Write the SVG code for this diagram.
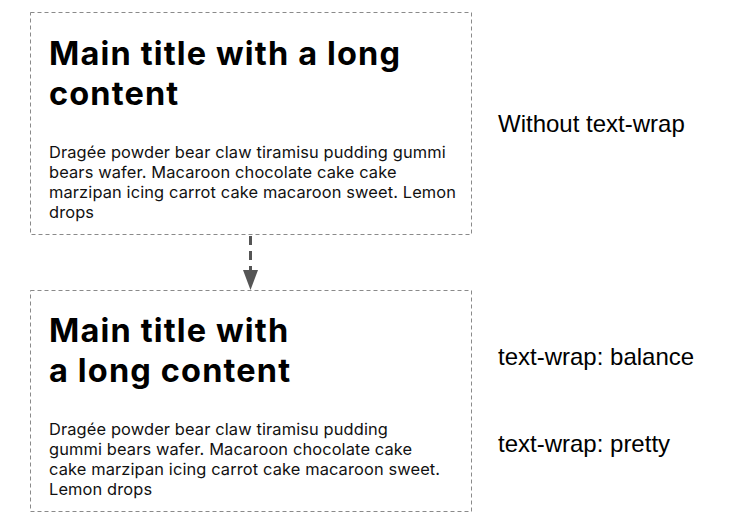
<svg xmlns="http://www.w3.org/2000/svg" width="750" height="525" viewBox="0 0 750 525">
<style>
.box{fill:#fff;stroke:#8a8a8a;stroke-width:1;stroke-dasharray:4 3}
.title{font-family:Inter,Lato,sans-serif;font-weight:700;font-size:32.5px;letter-spacing:1.15px;fill:#000}
.body{font-family:Inter,Lato,sans-serif;font-size:16.4px;letter-spacing:0.13px;fill:#111}
.label{font-family:"Liberation Sans",Arial,sans-serif;font-size:24px;fill:#000}
.conn{stroke:#555;stroke-width:3;stroke-dasharray:9 6;fill:none}
</style>
<rect width="750" height="525" fill="#fff"/>
<g id="node1">
<rect class="box" x="30.5" y="12.5" width="441" height="222"/>
<text class="title" x="49" y="65">Main title with a long</text>
<text class="title" x="49" y="105">content</text>
<text class="body" x="49" y="158">Dragée powder bear claw tiramisu pudding gummi</text>
<text class="body" x="49" y="178">bears wafer. Macaroon chocolate cake cake</text>
<text class="body" x="49" y="198">marzipan icing carrot cake macaroon sweet. Lemon</text>
<text class="body" x="49" y="218">drops</text>
</g>
<g id="node2">
<rect class="box" x="30.5" y="290.5" width="441" height="221"/>
<text class="title" x="49" y="342">Main title with</text>
<text class="title" x="49" y="382">a long content</text>
<text class="body" x="49" y="435">Dragée powder bear claw tiramisu pudding</text>
<text class="body" x="49" y="455">gummi bears wafer. Macaroon chocolate cake</text>
<text class="body" x="49" y="475">cake marzipan icing carrot cake macaroon sweet.</text>
<text class="body" x="49" y="495">Lemon drops</text>
</g>
<g id="labels">
<text class="label" x="498" y="132">Without text-wrap</text>
<text class="label" x="498" y="365">text-wrap: balance</text>
<text class="label" x="498" y="452">text-wrap: pretty</text>
</g>
<g id="connectors">
<line class="conn" x1="250.5" y1="236" x2="250.5" y2="272"/>
<path d="M243,270 L258,270 L250.5,290 z" fill="#555"/>
</g>
</svg>
